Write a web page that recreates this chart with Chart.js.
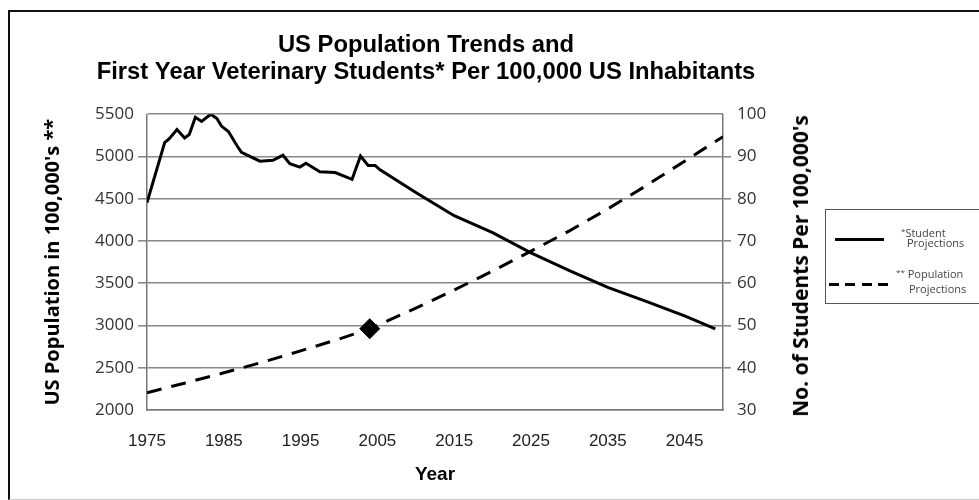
<!DOCTYPE html>
<html>
<head>
<meta charset="utf-8">
<script src="https://cdn.jsdelivr.net/npm/chart.js@4.4.1/dist/chart.umd.min.js"></script>
<style>
  body { margin: 0; background: #fff; }
  #frame { position: absolute; left: 8px; top: 10px; width: 1000px; height: 487px;
           border-left: 2px solid #111; border-top: 2px solid #111; border-bottom: 1px solid #ccc; }
  #wrap { position: absolute; left: 0; top: 0; width: 979px; height: 500px; }
  .lg { position: absolute; font-family: "Open Sans", sans-serif; font-size: 11px; color: #444; white-space: nowrap; line-height: 13px; }
  .lg sup { font-size: 8px; vertical-align: 3px; }
  #rtitle { position: absolute; left: 800px; top: 266px; transform: translate(-50%, -50%) rotate(-90deg);
            font-family: "Open Sans", sans-serif; font-weight: bold; font-size: 21px; color: #000; white-space: nowrap; }
</style>
</head>
<body>
<div id="frame"></div>
<div id="wrap"><canvas id="chart"></canvas></div>
<div id="rtitle">No. of Students Per 100,000's</div>

<div style="position:absolute;left:825px;top:209px;width:170px;height:93px;border:1.5px solid #555;"></div>
<div style="position:absolute;left:835px;top:238px;width:49px;height:2.5px;background:#000;"></div>
<div style="position:absolute;left:829px;top:283px;width:60px;height:2.5px;background:repeating-linear-gradient(to right,#000 0 10px,transparent 10px 16.5px);"></div>
<div class="lg" style="left:901px;top:224px;"><sup>*</sup>Student</div>
<div class="lg" style="left:907px;top:236px;">Projections</div>
<div class="lg" style="left:896px;top:265px;"><sup>**</sup> Population</div>
<div class="lg" style="left:909px;top:282px;">Projections</div>

<script>
// year ticks on the x axis
const xTicks = [1975, 1985, 1995, 2005, 2015, 2025, 2035, 2045];

// first year vet students per 100,000 (right axis)
const studentYears = [1975, 1977.3, 1977.9, 1978.9, 1979.9, 1980.5, 1981.3, 1982.1, 1983.3, 1984.1,
  1984.7, 1985.6, 1986.7, 1987.3, 1989.7, 1991.4, 1992.7, 1993.6, 1994.9, 1995.7,
  1997.5, 1999.5, 2001.7, 2002.8, 2003.8, 2004.7, 2005.3, 2010, 2015, 2020,
  2025, 2030, 2035, 2040, 2045, 2049];
const studentValues = [79.1, 93.3, 94.2, 96.4, 94.4, 95.2, 99.3, 98.3, 100, 99.0,
  97.2, 95.9, 92.6, 91.0, 88.9, 89.1, 90.3, 88.3, 87.5, 88.4,
  86.4, 86.2, 84.6, 90.1, 87.9, 87.9, 86.9, 81.5, 76.0, 72.0,
  67.2, 63.0, 59.0, 55.7, 52.3, 49.2];

// US population in 100,000's (left axis)
const popYears = [1975, 1980, 1985, 1990, 1995, 2000, 2004, 2010, 2015, 2020, 2025, 2030, 2035, 2040, 2045, 2050];
const popValues = [2205, 2320, 2440, 2565, 2700, 2840, 2962, 3205, 3420, 3645, 3880, 4120, 4380, 4655, 4945, 5235];

// marker at current population
const markYear = [2004];
const markValue = [2962];

function pts(xs, ys) {
  return xs.map((x, i) => ({ x: x, y: ys[i] }));
}

const plain = v => String(v);

const config = {
  type: 'line',
  data: {
    datasets: [
      {
        label: 'Student Projections',
        data: pts(studentYears, studentValues),
        yAxisID: 'yR',
        borderColor: '#000',
        borderWidth: 3,
        pointRadius: 0,
        tension: 0
      },
      {
        label: 'Population Projections',
        data: pts(popYears, popValues),
        yAxisID: 'y',
        borderColor: '#000',
        borderWidth: 3,
        borderDash: [15, 10],
        pointRadius: 0,
        tension: 0
      },
      {
        label: 'marker',
        data: pts(markYear, markValue),
        yAxisID: 'y',
        showLine: false,
        pointStyle: 'rectRot',
        pointRadius: 10,
        backgroundColor: '#000',
        borderColor: '#000'
      }
    ]
  },
  options: {
    responsive: true,
    maintainAspectRatio: false,
    animation: false,
    layout: { padding: { left: 0, right: 127, top: 0, bottom: 0 } },
    plugins: {
      legend: { display: false },
      tooltip: { enabled: false },
      title: {
        display: true,
        text: ['US Population Trends and', 'First Year Veterinary Students* Per 100,000 US Inhabitants'],
        color: '#000',
        font: { family: 'Liberation Sans', size: 23.8, weight: 'bold', lineHeight: 1.14 },
        padding: { top: 32, bottom: 28 }
      }
    },
    scales: {
      x: {
        type: 'linear',
        min: 1975,
        max: 2050,
        afterBuildTicks: s => { s.ticks = xTicks.map(v => ({ value: v })); },
        afterFit: s => { s.height = 90; },
        grid: { display: false, drawTicks: false },
        border: { display: true, color: '#777', width: 1.5 },
        ticks: {
          callback: plain,
          color: '#222',
          font: { family: 'Liberation Sans', size: 17 },
          padding: 21,
          maxRotation: 0,
          autoSkip: false
        },
        title: {
          display: true,
          text: 'Year',
          color: '#000',
          font: { family: 'Liberation Sans', size: 19, weight: 'bold' },
          padding: { top: 0, bottom: 14 }
        }
      },
      y: {
        position: 'left',
        min: 2000,
        max: 5500,
        afterFit: s => { s.width = 147; },
        ticks: {
          callback: plain,
          stepSize: 500,
          color: '#333',
          font: { family: 'Open Sans', size: 17 },
          padding: 4
        },
        grid: {
          color: '#888',
          lineWidth: 1.6,
          tickLength: 9,
          tickColor: c => (c.tick && (c.tick.value === 2000 || c.tick.value === 5500)) ? 'rgba(0,0,0,0)' : '#888'
        },
        border: { display: true, color: '#777', width: 1.5 },
        title: {
          display: true,
          text: "US Population in 100,000's **",
          color: '#000',
          font: { family: 'Open Sans', size: 20, weight: 'bold' },
          padding: { top: 41, bottom: 0 }
        }
      },
      yR: {
        position: 'right',
        min: 30,
        max: 100,
        afterFit: s => { s.width = 129; },
        ticks: {
          callback: plain,
          stepSize: 10,
          color: '#333',
          font: { family: 'Open Sans', size: 17 },
          padding: 6
        },
        grid: {
          drawOnChartArea: false,
          color: '#888',
          lineWidth: 1.6,
          tickLength: 8,
          tickColor: c => (c.tick && (c.tick.value === 30 || c.tick.value === 100)) ? 'rgba(0,0,0,0)' : '#888'
        },
        border: { display: true, color: '#777', width: 1.5 }
      }
    }
  }
};

const myChart = new Chart(document.getElementById('chart'), config);
</script>
</body>
</html>
